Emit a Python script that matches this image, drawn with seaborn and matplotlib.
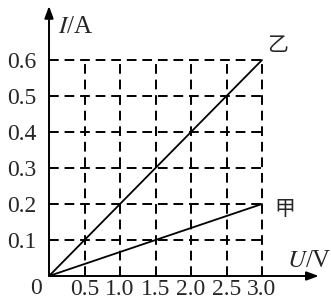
import matplotlib
matplotlib.use("Agg")
import matplotlib.pyplot as plt
import seaborn as sns
import pandas as pd

# Data
u_ticks = [0.5, 1.0, 1.5, 2.0, 2.5, 3.0]
i_ticks = [0.1, 0.2, 0.3, 0.4, 0.5, 0.6]
u_vals = [0.0, 3.0]
i_yi = [0.0, 0.6]     # 乙
i_jia = [0.0, 0.2]    # 甲
series_names = ["乙", "甲"]

sns.set_theme(style="white")
plt.rcParams["font.family"] = ["Liberation Serif", "Noto Sans CJK SC", "DejaVu Sans"]
plt.rcParams["mathtext.fontset"] = "stix"

df = pd.DataFrame({
    "U": u_vals + u_vals,
    "I": i_yi + i_jia,
    "name": [series_names[0]] * 2 + [series_names[1]] * 2,
})

W, H = 331, 302
fig = plt.figure(figsize=(W / 100, H / 100), dpi=100)
x0, y0 = 49, 276
px_u = 71.0    # px per 1 V
px_i = 360.0   # px per 1 A
xmax, ymax = 3.8, 0.75
ax = fig.add_axes([x0 / W, (H - y0) / H, xmax * px_u / W, ymax * px_i / H])
ax.set_xlim(0, xmax)
ax.set_ylim(0, ymax)
for s in ax.spines.values():
    s.set_visible(False)
ax.patch.set_alpha(0)

# dashed grid inside [0,3]x[0,0.6]
dash = dict(color="black", lw=1.4, linestyles=(0, (5, 3)))
ax.vlines(u_ticks, 0, max(i_ticks), **dash)
ax.hlines(i_ticks, 0, max(u_ticks), **dash)

sns.lineplot(data=df, x="U", y="I", units="name", estimator=None,
             color="black", lw=1.3, ax=ax, legend=False)

# axes arrows
arrow = dict(arrowstyle="-|>,head_length=0.6,head_width=0.22", color="black", lw=1.4,
             shrinkA=0, shrinkB=0)
ax.annotate("", xy=(xmax, 0), xytext=(0, 0), xycoords="data", arrowprops=arrow,
            annotation_clip=False)
ax.annotate("", xy=(0, ymax), xytext=(0, 0), xycoords="data", arrowprops=arrow,
            annotation_clip=False)

fs = 17
ax.set_xticks(u_ticks)
ax.set_xticklabels([f"{v:.1f}" for v in u_ticks], fontsize=fs)
ax.set_yticks(i_ticks)
ax.set_yticklabels([f"{v:.1f}" for v in i_ticks], fontsize=fs)
ax.tick_params(length=0, pad=9)
ax.tick_params(axis="x", pad=2)
ax.set_xlabel("")
ax.set_ylabel("")

ax.text(-0.1, -0.005, "0", ha="right", va="top", fontsize=fs, clip_on=False)
ax.text(0.13, 0.692, r"$I$/A", ha="left", va="center", fontsize=fs + 1, clip_on=False)
ax.text(3.35, 0.042, r"$U$/V", ha="left", va="center", fontsize=fs + 1, clip_on=False)
ax.text(3.07, 0.642, series_names[0], ha="left", va="center", fontsize=15,
        family=["Noto Sans CJK SC"], clip_on=False)
ax.text(3.18, 0.187, series_names[1], ha="left", va="center", fontsize=15,
        family=["Noto Sans CJK SC"], clip_on=False)

fig.savefig("out.png", dpi=100)
